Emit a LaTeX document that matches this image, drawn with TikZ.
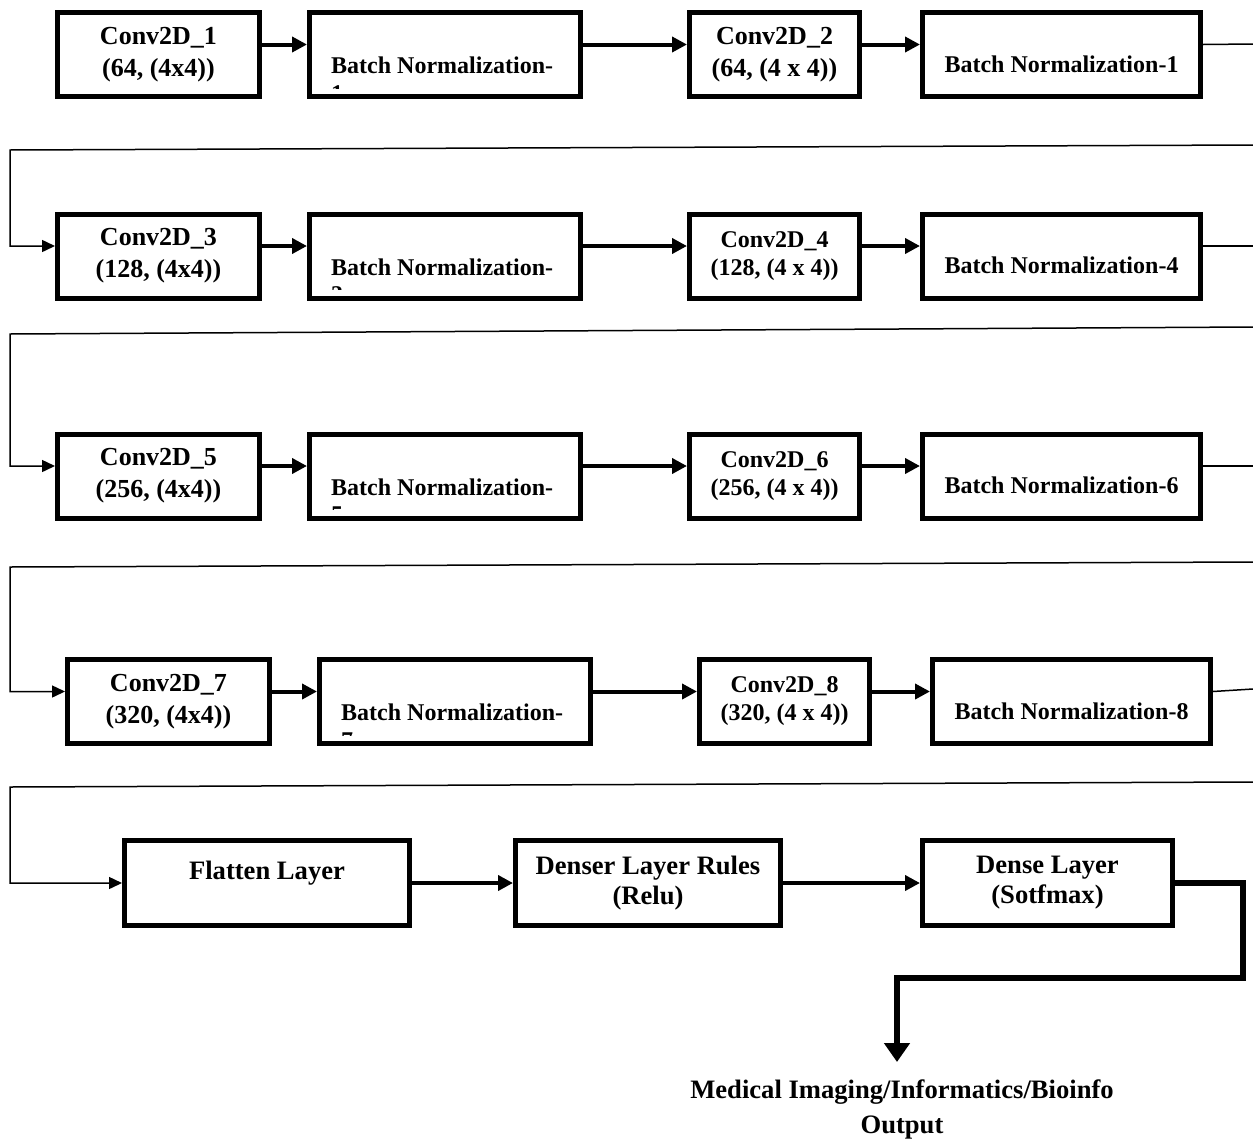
\documentclass[tikz,border=0pt]{standalone}
\usepackage{fontspec}
\setmainfont{Liberation Serif}
\usetikzlibrary{arrows.meta}

\begin{document}
\begin{tikzpicture}[
        x = 0.5pt,
        y = -0.5pt
    ]

        \tikzset{%
            layer/.style = {%
                rectangle,
                draw,
                fill       = white,
                line width = 2.5pt,
                inner sep  = 2pt,
                align      = center
            },
            convbig/.style   = {layer, minimum width = 101pt, minimum height = 42pt, font = \fontsize{13}{16}\selectfont\bfseries},
            convmid/.style   = {layer, minimum width = 85pt, minimum height = 42pt, font = \fontsize{13}{16}\selectfont\bfseries},
            convsmall/.style = {layer, minimum width = 85pt, minimum height = 42pt, font = \fontsize{12}{14}\selectfont\bfseries},
            bnclip/.style    = {layer, minimum width = 135.5pt, minimum height = 42pt},
            bnone/.style     = {layer, minimum width = 139pt, minimum height = 42pt, text height = 18pt, font = \fontsize{12}{14}\selectfont\bfseries},
            bntext/.style    = {inner sep = 0pt, align = left, font = \fontsize{12}{13.8}\selectfont\bfseries},
            final/.style     = {layer, minimum height = 42.5pt, font = \fontsize{13.3}{15}\selectfont\bfseries},
            outtext/.style   = {inner sep = 0pt, align = center, font = \fontsize{13.3}{17.5}\selectfont\bfseries},
            flow/.style      = {line width = 2pt, -{Triangle[length = 7.5pt, width = 7.5pt]}},
            back/.style      = {line width = 0.75pt, -{Triangle[length = 6.5pt, width = 6pt]}},
            link/.style      = {line width = 0.75pt},
            outflow/.style   = {line width = 3pt, -{Triangle[length = 9.5pt, width = 12.5pt]}}
        }

        \newcommand{\rowlift}{5pt}

        \useasboundingbox (0, 0) rectangle (1253, 1141);

        % Row 1
        \node[convbig] (conv1) at (158.5, 54.5) {Conv2D\_1\\(64, (4x4))};
        \node[bnclip] (bn1) at (445, 54.5) {};
        \node[convmid] (conv2) at (774.5, 54.5) {Conv2D\_2\\(64, (4 x 4))};
        \node[bnone] (bnb1) at (1061.5, 54.5) {Batch Normalization-1};

        % Row 2
        \node[convbig] (conv3) at (158.5, 256) {Conv2D\_3\\(128, (4x4))};
        \node[bnclip] (bn3) at (445, 256) {};
        \node[convsmall] (conv4) at (774.5, 256) {Conv2D\_4\\(128, (4 x 4))};
        \node[bnone] (bnb4) at (1061.5, 256) {Batch Normalization-4};

        % Row 3
        \node[convbig] (conv5) at (158.5, 476) {Conv2D\_5\\(256, (4x4))};
        \node[bnclip] (bn5) at (445, 476) {};
        \node[convsmall] (conv6) at (774.5, 476) {Conv2D\_6\\(256, (4 x 4))};
        \node[bnone] (bnb6) at (1061.5, 476) {Batch Normalization-6};

        % Row 4
        \node[convbig] (conv7) at (168.5, 701.5) {Conv2D\_7\\(320, (4x4))};
        \node[bnclip] (bn7) at (455, 701.5) {};
        \node[convsmall] (conv8) at (784.5, 701.5) {Conv2D\_8\\(320, (4 x 4))};
        \node[bnone] (bnb8) at (1071.5, 701.5) {Batch Normalization-8};

        % Row 5
        \node[final, minimum width = 142.5pt, text depth = 13pt] (flat) at (267, 883) {Flatten Layer};
        \node[final, minimum width = 132.5pt] (denser) at (648, 883) {Denser Layer Rules\\(Relu)};
        \node[final, minimum width = 125pt] (dense) at (1047.5, 883) {Dense Layer\\(Sotfmax)};

        \node[outtext] (out) at (902, 1109) {Medical Imaging/Informatics/Bioinfo\\Output};

        % Labels cut off by the box edge
        \foreach \b/\d in {bn1/1, bn3/3, bn5/5, bn7/7} {
            \begin{scope}
                \clip ([yshift = 5.5pt]\b.south west) rectangle (\b.north east);
                \node[bntext, anchor = base west] (\b text) at ([xshift = 11.9pt, yshift = -45.7pt]\b.north west) {Batch Normalization-\\\d};
            \end{scope}
        }

        \foreach \a/\b in {conv1/bn1, bn1/conv2, conv2/bnb1,
                           conv3/bn3, bn3/conv4, conv4/bnb4,
                           conv5/bn5, bn5/conv6, conv6/bnb6,
                           conv7/bn7, bn7/conv8, conv8/bnb8} {
            \draw[flow] ([yshift = \rowlift]\a.east) -- ([yshift = \rowlift]\b.west);
        }
        \draw[flow] (flat.east) -- (denser.west);
        \draw[flow] (denser.east) -- (dense.west);

        % Lines running off the right edge
        \coordinate (end1) at (1253, 44);
        \coordinate (end2) at (1253, 246);
        \coordinate (end3) at (1253, 466);
        \coordinate (end4) at (1253, 689);
        \draw[link] ([yshift = \rowlift]bnb1.east) -- (end1);
        \draw[link] ([yshift = \rowlift]bnb4.east) -- (end2);
        \draw[link] ([yshift = \rowlift]bnb6.east) -- (end3);
        \draw[link] ([yshift = \rowlift]bnb8.east) -- (end4);

        % Lines coming back to the next row
        \foreach \i/\yr/\yl/\n/\s in {1/145/150/conv3/\rowlift, 2/327/334/conv5/\rowlift,
                                      3/562/567/conv7/\rowlift, 4/782/787/flat/0pt} {
            \coordinate (right\i) at (1253, \yr);
            \coordinate (left\i) at (10, \yl);
            \draw[back] (right\i) -- (left\i) |- ([yshift = \s]\n.west);
        }

        % Output
        \coordinate (bend) at (1243, 978);
        \coordinate (tip) at (897, 1062);
        \draw[outflow] (dense.east) -| (bend) -| (tip);

    \end{tikzpicture}
\end{document}
